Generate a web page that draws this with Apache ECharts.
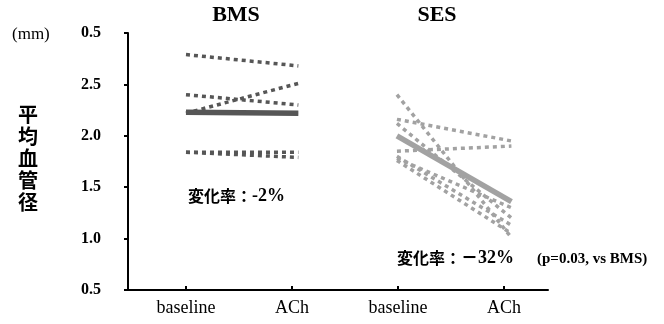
<!DOCTYPE html>
<html>
<head>
<meta charset="utf-8">
<script src="https://cdn.jsdelivr.net/npm/echarts@6/dist/echarts.min.js"></script>
<style>
  html, body { margin: 0; padding: 0; background: #fff; }
  #chart { width: 664px; height: 324px; }
</style>
</head>
<body>
<div id="chart"></div>
<script>
// Category positions along the horizontal value axis
const categories = ['baseline', 'ACh', 'baseline', 'ACh'];
const categoryPos = [1, 2, 3, 4];

// Vertical axis ticks and their printed labels
const yTicks = [0.5, 1.0, 1.5, 2.0, 2.5, 3.0];
const yTickLabels = ['0.5', '1.0', '1.5', '2.0', '2.5', '0.5'];

// Where each group's paired lines start and end on the x axis
const bmsX = [1, 2.06];
const sesX = [2.99, 4.07];

// Mean vessel diameter (mm), per patient: baseline and after ACh
const bmsBaseline = [2.79, 2.40, 2.22, 1.84, 1.84];
const bmsAch      = [2.68, 2.30, 2.51, 1.84, 1.79];
const bmsMean     = [2.23, 2.22];

const sesBaseline = [2.40, 2.16, 2.12, 1.85, 1.80, 1.78, 1.76];
const sesAch      = [1.01, 1.95, 1.20, 1.90, 1.13, 1.30, 1.05];
const sesMean     = [2.00, 1.36];

const BMS_COLOR = '#565656';
const SES_COLOR = '#a2a2a2';
const SERIF = '"Liberation Serif", "Times New Roman", serif';
const CJK = '"Noto Sans CJK JP", sans-serif';

function pairedSeries(xs, before, after, color) {
  return before.map((b, i) => ({
    type: 'line',
    data: [[xs[0], b], [xs[1], after[i]]],
    symbol: 'none',
    silent: true,
    lineStyle: { color: color, width: 3.5, type: [4, 4], cap: 'butt' },
    z: 2
  }));
}

function meanSeries(xs, vals, color) {
  return {
    type: 'line',
    data: [[xs[0], vals[0]], [xs[1], vals[1]]],
    symbol: 'none',
    silent: true,
    lineStyle: { color: color, width: 5.5, cap: 'butt' },
    z: 3
  };
}

const chart = echarts.init(document.getElementById('chart'), null, { renderer: 'canvas' });

chart.setOption({
  animation: false,
  backgroundColor: '#ffffff',
  grid: { left: 128, right: 116, top: 33, bottom: 34, containLabel: false },
  xAxis: {
    type: 'value',
    min: 0.453,
    max: 4.415,
    splitLine: { show: false },
    axisLine: { show: true, lineStyle: { color: '#000', width: 2 } },
    axisTick: {
      show: true, inside: true, length: 4,
      customValues: categoryPos,
      lineStyle: { color: '#000', width: 2 }
    },
    axisLabel: {
      show: true,
      customValues: categoryPos,
      margin: 9,
      color: '#000',
      fontFamily: SERIF,
      fontSize: 18,
      formatter: (v) => categories[categoryPos.indexOf(Math.round(v))] || ''
    }
  },
  yAxis: {
    type: 'value',
    min: 0.5,
    max: 3.0,
    interval: 0.5,
    splitLine: { show: false },
    axisLine: { show: true, lineStyle: { color: '#000', width: 2 } },
    axisTick: { show: true, inside: false, length: 4, lineStyle: { color: '#000', width: 2 } },
    axisLabel: {
      color: '#000',
      fontFamily: SERIF,
      fontWeight: 'bold',
      fontSize: 16,
      margin: 27,
      formatter: (v) => {
        const i = yTicks.findIndex(t => Math.abs(t - v) < 1e-6);
        return i >= 0 ? yTickLabels[i] : '';
      }
    }
  },
  series: [
    ...pairedSeries(bmsX, bmsBaseline, bmsAch, BMS_COLOR),
    ...pairedSeries(sesX, sesBaseline, sesAch, SES_COLOR),
    meanSeries(bmsX, bmsMean, BMS_COLOR),
    meanSeries(sesX, sesMean, SES_COLOR)
  ],
  graphic: [
    {
      type: 'text', left: 12, top: 26,
      style: { text: '(mm)', font: '17px ' + SERIF, fill: '#000' }
    },
    {
      type: 'text', x: 28, y: 158,
      style: {
        text: '平\n均\n血\n管\n径',
        font: 'bold 20px ' + CJK,
        lineHeight: 22,
        align: 'center',
        verticalAlign: 'middle',
        fill: '#000'
      }
    },
    {
      type: 'text', x: 236, y: 15,
      style: { text: 'BMS', font: 'bold 22px ' + SERIF, align: 'center', verticalAlign: 'middle', fill: '#000' }
    },
    {
      type: 'text', x: 437, y: 15,
      style: { text: 'SES', font: 'bold 22px ' + SERIF, align: 'center', verticalAlign: 'middle', fill: '#000' }
    },
    {
      type: 'text', x: 188, y: 196,
      style: {
        text: '{j|変化率：}{n|-2%}',
        verticalAlign: 'middle',
        rich: {
          j: { font: 'bold 16px ' + CJK, fill: '#000' },
          n: { font: 'bold 18px ' + SERIF, fill: '#000' }
        }
      }
    },
    {
      type: 'text', x: 397, y: 258,
      style: {
        text: '{j|変化率：}{d|－}{n|32%}',
        verticalAlign: 'middle',
        rich: {
          j: { font: 'bold 16px ' + CJK, fill: '#000' },
          d: { font: '900 17px ' + CJK, fill: '#000' },
          n: { font: 'bold 18px ' + SERIF, fill: '#000' }
        }
      }
    },
    {
      type: 'text', x: 537, y: 259,
      style: { text: '(p=0.03, vs BMS)', font: 'bold 15px ' + SERIF, verticalAlign: 'middle', fill: '#000' }
    }
  ]
});
</script>
</body>
</html>
